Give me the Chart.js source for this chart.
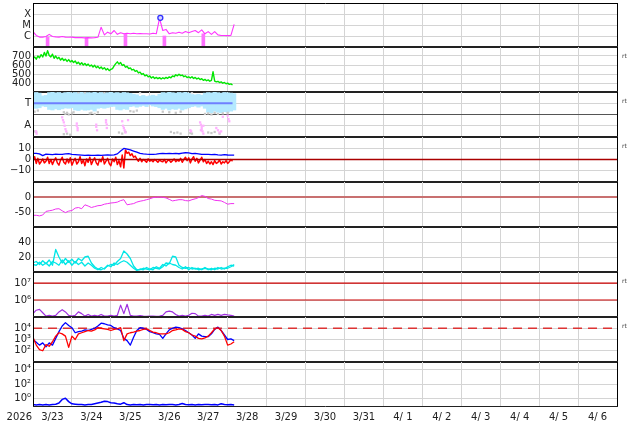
<!DOCTYPE html>
<html lang="en">
<head>
    <meta charset="utf-8">
    <title>Space weather summary</title>
    <script src="https://cdn.jsdelivr.net/npm/chart.js@4.4.1/dist/chart.umd.min.js"></script>
    <style>
        html, body { margin:0; padding:0; background:#fff; }
        #wrap { position:relative; width:634px; height:424px; overflow:hidden; }
        #wrap canvas { position:absolute; left:0; }
    </style>
</head>
<body>
<div id="wrap"></div>
<script>
    // x axis: hours counted from 2026-03-23 00UT, 15 days shown
    const yearLabel = '2026';
    const dayLabels = ['3/23','3/24','3/25','3/26','3/27','3/28','3/29','3/30','3/31','4/ 1','4/ 2','4/ 3','4/ 4','4/ 5','4/ 6'];
    const X_MIN = 0, X_MAX = 360;
    const dataEndHour = 123;
    const hours1 = Array.from({length: 124}, (_, i) => i);      // hourly samples
    const hours2 = Array.from({length: 63}, (_, i) => i * 2);   // 2-hourly samples

    // X-ray flux, log10(W/m2)
    const xrayLog = [-5.6,-5.95,-6.1,-6.1,-6.05,-5.85,-6.05,-6.08,-6.1,-6.05,
        -6.1,-6.12,-6.1,-6.15,-6.13,-6.15,-6.17,-6.15,-6.17,-6.15,
        -6.12,-5.2,-5.9,-5.65,-5.8,-5.5,-5.85,-5.7,-5.8,-5.75,
        -5.8,-5.75,-5.8,-5.78,-5.8,-5.8,-5.82,-5.75,-5.8,-4.4,
        -5.5,-5.4,-5.8,-5.7,-5.75,-5.65,-5.75,-5.6,-5.7,-5.6,
        -5.5,-5.7,-5.45,-5.8,-5.6,-5.85,-5.6,-5.9,-5.95,-5.95,
        -5.97,-5.95,-4.95];
    const xrayGapHours = [9, 33, 57, 81, 105];
    const xrayGapTop = [-6.12, -6.15, -5.85, -6.0, -5.8];
    const flareHours = [78.5];
    const flareLog = [-4.35];

    // solar wind speed, km/s (hourly)
    const speed = [672,690,665,700,680,715,690,740,700,760,
        705,690,720,675,700,670,685,655,675,650,
        665,640,660,635,650,628,645,615,632,605,
        625,600,618,595,610,588,600,578,596,570,
        585,562,578,555,570,545,560,538,552,560,
        590,615,635,610,628,595,605,575,585,560,
        568,545,552,530,538,512,520,495,505,480,
        490,468,478,455,470,450,462,448,460,445,
        458,448,462,452,468,458,478,470,492,480,
        498,482,488,470,478,460,468,455,470,450,
        462,445,455,438,448,430,440,425,435,420,
        428,525,420,412,418,405,412,398,406,392,
        398,385,390,378];

    // IMF sector: T band (2-hourly low/high), scattered points
    const bandLo = [2.58,2.55,2.6,2.75,2.7,2.45,2.4,2.5,2.42,2.5,
        2.58,2.55,2.6,2.4,2.35,2.45,2.38,2.4,2.45,2.3,
        2.55,2.6,2.55,2.62,2.7,2.72,2.45,2.4,2.5,2.45,
        2.7,2.75,2.65,2.72,2.8,2.7,2.85,2.75,2.7,2.6,
        2.45,2.55,2.4,2.5,2.45,2.55,2.4,2.5,2.6,2.7,
        2.75,2.65,2.75,2.55,2.2,2.15,2.3,2.2,2.15,2.25,
        2.2,2.3,2.4];
    const bandHi = [3.92,3.96,3.9,3.65,3.7,3.95,3.97,3.93,3.96,3.9,
        3.95,3.97,3.92,3.96,3.94,3.97,3.9,3.95,3.93,3.97,
        3.92,3.96,3.9,3.94,3.97,3.92,3.95,3.9,3.96,3.93,
        3.88,3.8,3.75,3.62,3.7,3.6,3.66,3.72,3.64,3.8,
        3.95,3.92,3.97,3.94,3.9,3.96,3.93,3.97,3.9,3.78,
        3.75,3.8,3.72,3.9,3.95,3.92,3.97,3.94,3.9,3.96,
        3.93,3.9,3.85];
    const sectorLevel = 3;
    const grayHours = [0,1,3,19,20,21,22,24,25,35,36,38,40,60,62,64,80,84,88,91,106,108,110,112,114,117,120,
        28,32,44,66,98,
        1,2,19,21,23,53,55,57,85,87,89,91,97,98,108,110,112,115];
    const grayVals = [2.3,2.25,2.35,2.2,2.05,2.15,2.0,2.1,2.2,2.1,2.15,2.05,2.2,2.3,2.25,2.35,2.25,2.2,2.15,2.25,2.05,2.1,2.0,2.15,2.05,2.1,2.15,
        3.98,3.97,3.98,3.98,3.98,
        0.5,0.45,0.25,0.3,0.2,0.4,0.3,0.45,0.45,0.35,0.4,0.3,0.35,0.3,0.4,0.35,0.45,0.3];
    const pinkHours = [1.8,2.2,18,18.5,19,19.5,20,20.5,27,27,27.5,27.5,39,39,39.5,45,45,45.5,45.5,
        55,55.5,56,56.5,57,58.6,97,97.5,103,103.5,104,104,104.5,105,105,103.5,113,114,115,116,117,120,120.5,121];
    const pinkVals = [0.5,0.3,1.75,1.5,1.3,1.0,0.7,0.5,1.2,1.0,0.8,0.6,1.1,0.9,0.6,1.5,1.3,1.1,0.8,
        1.4,1.0,0.8,0.6,0.4,1.5,0.6,0.5,1.3,1.1,0.9,0.7,0.5,0.3,1.0,0.6,0.8,0.6,0.4,0.5,1.8,1.9,1.6,1.4];

    // IMF Bt (2-hourly) and Bz (hourly), nT
    const bt = [5.4,5.5,5.0,3.5,4.8,4.6,4.4,4.7,4.5,4.6,
        5.0,5.2,4.6,4.4,4.2,3.9,3.6,3.8,3.7,3.6,
        3.8,3.7,3.9,4.0,3.9,4.1,5.0,7.5,9.8,9.2,
        8.5,7.5,6.5,5.4,5.0,4.7,4.5,4.6,4.8,5.2,
        5.5,5.3,5.4,5.2,5.4,5.1,5.6,6.0,5.8,5.2,
        5.4,5.0,4.6,4.5,4.6,4.3,4.5,4.1,3.9,4.4,
        4.0,3.9,3.8];
    const bz = [-1,2.5,-3.5,1.0,-4.0,-2.0,0.5,-3.0,-1.5,2.0,
        -3.5,0.0,-4.5,-1.0,1.5,-3.0,-5.0,-0.5,2.0,-2.5,
        -4.0,0.5,-3.0,1.5,-5.0,-1.5,1.0,-4.0,-2.0,2.5,
        -3.5,-0.5,-5.5,0.5,-2.5,2.0,-4.5,-1.0,1.5,-3.0,
        -5.0,0.0,-2.0,2.5,-4.0,-1.5,1.0,-3.5,-5.5,0.5,
        -2.0,2.0,-4.5,-1.0,-6.5,4.0,-7.5,8.5,5.5,6.5,
        3.5,5.0,2.0,3.0,0.5,-1.5,1.0,-2.0,0.0,-1.0,
        -2.5,0.5,-1.5,-0.5,-2.0,0.0,-1.0,-2.5,-0.5,-1.5,
        -2.0,0.0,-3.0,-1.0,-0.5,-2.5,-1.0,0.5,-2.0,-0.5,
        -1.5,1.0,-2.5,0.0,2.0,-1.0,1.5,-3.0,0.5,2.5,
        -1.5,1.0,-3.0,-0.5,2.0,-2.0,0.0,-3.5,-1.5,-4.0,
        -2.0,-4.5,-1.0,-3.5,-2.5,-0.5,-4.0,-2.0,-3.0,-1.0,
        -3.5,-2.0,0.0,-1.5];

    // Dst index, nT (2-hourly)
    const dst = [-61,-61,-63,-60,-48,-46,-44,-40,-39,-46,
        -52,-47,-45,-37,-35,-39,-26,-30,-35,-32,
        -29,-28,-24,-22,-20,-19,-17,-12,-9,-26,
        -24,-22,-17,-14,-12,-9,-6,-2,-1,0,
        -1,-3,-8,-13,-11,-9,-9,-12,-13,-9,
        -6,-2,5,2,-5,-7,-11,-12,-13,-18,
        -24,-22,-22];

    // solar wind density, two sources (2-hourly)
    const dens1 = [12,14,10,15,11,16,9,30,20,12,
        18,13,17,12,18,15,20,21,12,7,
        4,3,5,8,10,9,14,18,28,24,
        18,8,3,3,5,4,3,6,5,4,
        7,12,11,21,20,9,6,5,6,4,
        5,3,4,5,4,3,5,4,6,4,
        7,9,8];
    const dens2 = [10,9,13,9,12,8,14,12,9,16,
        10,15,9,14,10,13,8,12,9,5,
        3,6,4,9,7,12,10,13,15,13,
        9,5,2,4,3,6,4,3,7,5,
        10,8,12,10,9,6,4,7,3,6,
        4,5,3,6,3,5,3,6,4,5,
        5,7,10];

    // proton flux, log10 (2-hourly)
    const protonLog = [5.2,5.4,5.45,5.25,5.05,5.1,5.05,5.1,5.3,5.43,
        5.3,5.1,5.05,5.1,5.3,5.2,5.05,5.15,5.05,5.1,
        5.05,5.15,5.05,5.05,5.1,5.05,5.1,5.7,5.2,5.75,
        5.1,5.05,5.05,5.08,5.05,5.04,5.06,5.05,5.04,5.06,
        5.1,5.3,5.35,5.3,5.15,5.05,5.1,5.05,5.1,5.22,
        5.2,5.05,5.05,5.1,5.05,5.15,5.1,5.15,5.1,5.15,
        5.12,5.1,5.05];
    const protonLevels = [6, 7];

    // electron flux, log10 (2-hourly), two satellites
    const elecBlue = [3.0,2.75,2.5,2.7,2.35,2.7,2.5,3.1,3.7,4.2,
        4.5,4.25,4.05,3.6,3.7,3.75,3.85,3.8,3.9,4.0,
        4.2,4.45,4.4,4.3,4.25,4.05,3.95,3.8,3.1,2.9,
        2.5,3.2,3.8,4.05,4.0,3.9,3.7,3.6,3.5,3.45,
        3.1,3.5,3.85,4.0,4.1,4.05,3.95,3.8,3.6,3.4,
        3.1,3.5,3.3,3.25,3.25,3.5,3.9,4.1,3.8,3.4,
        3.0,3.05,2.9];
    const elecRed = [3.2,2.5,2.1,2.0,2.55,2.4,2.8,3.3,3.6,3.5,
        3.3,2.3,3.3,3.0,3.5,3.6,3.7,3.8,3.75,3.85,
        4.05,4.0,3.95,3.9,3.8,3.9,3.95,4.05,2.9,3.5,
        3.6,3.65,3.75,3.8,3.9,3.95,3.8,3.65,3.6,3.5,
        3.5,3.5,3.6,3.8,3.85,3.95,3.9,3.7,3.6,3.4,
        3.3,3.1,3.05,3.15,3.3,3.6,3.95,4.05,3.8,3.3,
        2.5,2.6,2.8];
    const elecLevel = 4;

    // high energy flux, log10 (2-hourly)
    const highLog = [-0.8,-0.85,-0.8,-0.85,-0.8,-0.85,-0.8,-0.75,-0.6,-0.1,
        0.05,-0.4,-0.7,-0.75,-0.8,-0.8,-0.85,-0.8,-0.8,-0.7,
        -0.6,-0.5,-0.35,-0.4,-0.55,-0.6,-0.7,-0.75,-0.55,-0.8,
        -0.85,-0.8,-0.82,-0.8,-0.85,-0.8,-0.78,-0.82,-0.8,-0.85,
        -0.8,-0.82,-0.78,-0.8,-0.85,-0.8,-0.65,-0.8,-0.82,-0.8,
        -0.85,-0.8,-0.82,-0.8,-0.78,-0.82,-0.8,-0.85,-0.7,-0.8,
        -0.82,-0.8,-0.85];

    // panel placement
    const PANEL_TOP = [3, 47, 92, 137, 182, 227, 272, 317, 362];
    const PANEL_BOTTOM = 406;
    const PAD = 3;
    const GRID = '#d4d4d4';

    Chart.defaults.font.family = 'DejaVu Sans';
    Chart.defaults.font.size = 10;
    Chart.defaults.color = '#222';

    function pts(xs, ys) { return ys.map((y, i) => ({x: xs[i], y: y})); }

    function lineSet(data, color, width, extra) {
        return Object.assign({type: 'line', data: data, borderColor: color, borderWidth: width,
            pointRadius: 0, fill: false, tension: 0, borderJoinStyle: 'round'}, extra || {});
    }
    function dotSet(data, color, r) {
        return {type: 'line', data: data, showLine: false, pointRadius: r, pointStyle: 'rect',
            pointBackgroundColor: color, pointBorderWidth: 0, borderColor: color};
    }
    function levelLine(v, color, width, dash) {
        return lineSet([{x: X_MIN, y: v}, {x: X_MAX, y: v}], color, width, {borderDash: dash || []});
    }

    const framePlugin = {
        id: 'frame',
        afterDraw(chart, args, o) {
            const ctx = chart.ctx, a = chart.chartArea;
            ctx.save();
            ctx.strokeStyle = '#000';
            ctx.lineWidth = 1;
            ctx.beginPath();
            ctx.moveTo(a.left + 0.5, a.top); ctx.lineTo(a.left + 0.5, a.bottom);
            ctx.moveTo(a.right + 0.5, a.top); ctx.lineTo(a.right + 0.5, a.bottom);
            if (o.top) { ctx.moveTo(a.left, a.top + 0.5); ctx.lineTo(a.right + 1, a.top + 0.5); }
            ctx.stroke();
            ctx.strokeStyle = '#222';
            ctx.lineWidth = o.last ? 1 : 2;
            ctx.beginPath();
            const yb = o.last ? a.bottom + 0.5 : a.bottom;
            ctx.moveTo(a.left, yb); ctx.lineTo(a.right + 1, yb);
            ctx.stroke();
            if (o.rt) {
                ctx.font = '6px DejaVu Sans';
                ctx.fillStyle = '#444';
                ctx.textBaseline = 'middle';
                ctx.fillText('rt', a.right + 5, a.top + 9.5);
            }
            if (o.last) {
                ctx.font = '10px DejaVu Sans';
                ctx.fillStyle = '#222';
                ctx.textAlign = 'right';
                ctx.textBaseline = 'middle';
                ctx.fillText(yearLabel, a.left - 1, a.bottom + 11);
            }
            ctx.restore();
        }
    };

    const wrap = document.getElementById('wrap');

    function panel(idx, yOpt, datasets, flags) {
        const top = PANEL_TOP[idx];
        const last = idx === PANEL_TOP.length - 1;
        const bottom = last ? PANEL_BOTTOM : PANEL_TOP[idx + 1];
        const cv = document.createElement('canvas');
        cv.width = 634;
        cv.height = (bottom - top) + PAD + (last ? 424 - bottom : PAD);
        cv.style.top = (top - PAD) + 'px';
        wrap.appendChild(cv);
        new Chart(cv, {
            type: 'line',
            data: {datasets: datasets},
            options: {
                responsive: false, animation: false, devicePixelRatio: 1, events: [],
                layout: {padding: {top: PAD, bottom: last ? 0 : PAD, left: 0, right: 17}, autoPadding: false},
                plugins: {legend: {display: false}, tooltip: {enabled: false},
                    frame: Object.assign({last: last}, flags || {})},
                scales: {
                    x: {
                        type: 'linear', min: X_MIN, max: X_MAX, bounds: 'data', offset: false,
                        afterBuildTicks: s => { s.ticks = dayLabels.map((_, i) => ({value: i * 24 + 12})); },
                        grid: {offset: true, color: GRID, drawTicks: false},
                        border: {display: false},
                        ticks: {display: last, padding: 5, maxRotation: 0, autoSkip: false,
                            callback: (v, i) => dayLabels[i]},
                        afterFit: s => {
                            s.height = last ? 18 : 0;
                            s.paddingLeft = 0; s.paddingRight = 0;
                        }
                    },
                    y: {
                        type: 'linear', min: yOpt.min, max: yOpt.max, bounds: 'data',
                        afterBuildTicks: s => { s.ticks = yOpt.ticks.map(v => ({value: v})); },
                        grid: {color: yOpt.gridColor || GRID, drawTicks: false},
                        border: {display: false},
                        ticks: {padding: 2, autoSkip: false, callback: (v, i) => yOpt.labels[i]},
                        afterFit: s => {
                            s.width = 33;
                            s.paddingTop = 0; s.paddingBottom = 0;
                        }
                    }
                }
            },
            plugins: [framePlugin]
        });
    }

    // 1: X-ray class
    panel(0, {min: -7, max: -3, ticks: [-6, -5, -4], labels: ['C', 'M', 'X']}, [
        {type: 'line', data: pts(flareHours, flareLog), showLine: false, pointRadius: 2.5,
            pointBorderColor: '#3030ff', pointBackgroundColor: '#d4d4ff', pointBorderWidth: 1.3},
        lineSet(pts(hours2, xrayLog), '#ff33ff', 1.1),
        {type: 'bar', data: xrayGapHours.map((h, i) => ({x: h, y: [-7, xrayGapTop[i]]})),
            backgroundColor: '#ff70ff', barThickness: 3, borderWidth: 0, grouped: false}
    ], {top: true});

    // 2: solar wind speed
    panel(1, {min: 300, max: 800, ticks: [400, 500, 600, 700], labels: ['400', '500', '600', '700']}, [
        lineSet(pts(hours1, speed), '#00e600', 1.4)
    ], {rt: true});

    // 3: sector T / A
    panel(2, {min: 0, max: 4, ticks: [1, 2, 3], labels: ['A', '', 'T'],
        gridColor: c => (c.tick && c.tick.value === 2) ? '#555' : GRID}, [
        lineSet([{x: hours2[0], y: sectorLevel}, {x: dataEndHour, y: sectorLevel}], '#6f7fff', 2),
        dotSet(pts(pinkHours, pinkVals), '#ffb0ff', 1.6),
        dotSet(pts(grayHours, grayVals), '#c8c8c8', 1.6),
        {type: 'bar', data: hours2.map((h, i) => ({x: h, y: [bandLo[i], bandHi[i]]})),
            backgroundColor: '#b4e9ff', barThickness: 3.5, borderWidth: 0, grouped: false}
    ], {rt: true});

    // 4: IMF
    panel(3, {min: -20, max: 20, ticks: [-10, 0, 10], labels: ['\u221210', '0', '10']}, [
        levelLine(0, '#aa0000', 1.5),
        lineSet(pts(hours2, bt), '#0000ff', 1.3),
        lineSet(pts(hours1, bz), '#ff0000', 1.5)
    ], {rt: true});

    // 5: Dst
    panel(4, {min: -100, max: 50, ticks: [-50, 0], labels: ['-50', '0']}, [
        lineSet(pts(hours2, dst), '#f030f0', 1),
        levelLine(0, '#c87070', 2)
    ]);

    // 6: density
    panel(5, {min: 0, max: 60, ticks: [20, 40], labels: ['20', '40']}, [
        lineSet(pts(hours2, dens1), '#00e6e6', 1.3),
        lineSet(pts(hours2, dens2), '#00e6e6', 1.3)
    ]);

    // 7: protons
    panel(6, {min: 5, max: 7.65, ticks: [6, 7], labels: ['10\u2076', '10\u2077']}, [
        lineSet(pts(hours2, protonLog), '#a030e0', 1.2),
        levelLine(protonLevels[0], '#cc0000', 1.2),
        levelLine(protonLevels[1], '#cc0000', 1.2)
    ], {rt: true});

    // 8: electrons
    panel(7, {min: 1, max: 5, ticks: [2, 3, 4], labels: ['10\u00b2', '10\u00b3', '10\u2074']}, [
        lineSet(pts(hours2, elecRed), '#ff0000', 1.3),
        lineSet(pts(hours2, elecBlue), '#0000ff', 1.3),
        levelLine(elecLevel, '#dd3333', 1.7, [9, 6])
    ], {rt: true});

    // 9: high energy
    panel(8, {min: -1, max: 5, ticks: [0, 2, 4], labels: ['10\u2070', '10\u00b2', '10\u2074']}, [
        lineSet(pts(hours2, highLog), '#0000ff', 1.5)
    ]);
</script>
</body>
</html>
